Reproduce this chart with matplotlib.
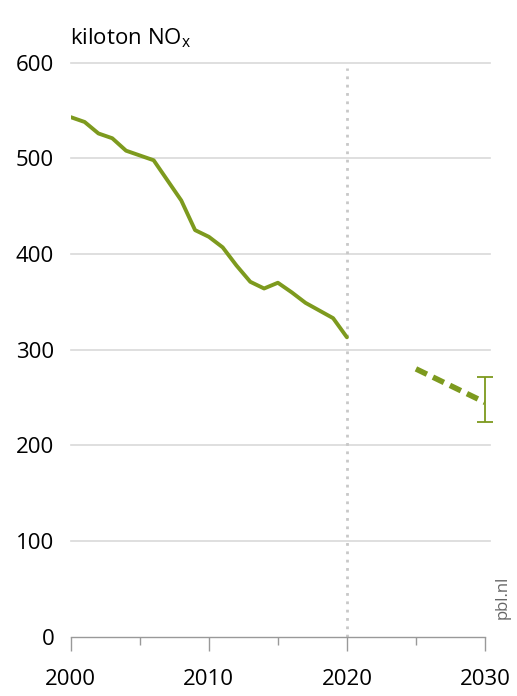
import matplotlib.pyplot as plt

years = list(range(2000, 2021))
nox = [543, 538, 526, 521, 508, 503, 498, 477, 456, 425, 418, 407, 388,
       371, 364, 370, 360, 349, 341, 333, 313]

proj_years = [2025, 2030]
proj_nox = [280, 245]
err_low, err_high = 225, 272

green = '#7d9a1e'
plt.rcParams['font.family'] = ['Open Sans', 'DejaVu Sans']

fig = plt.figure(figsize=(5.17, 6.96), dpi=100)
ax = fig.add_axes([0.137, 0.085, 0.801, 0.825])

# gridlines run a little past the last year
for y in [100, 200, 300, 400, 500, 600]:
    ax.plot([2000, 2030.4], [y, y], color='#d9d9d9', lw=1.2, zorder=0, clip_on=False)

ax.axvline(2020, color='#c8c8c8', lw=2, ls=(0, (1, 2)), ymax=0.99, zorder=1)

ax.plot(years, nox, color=green, lw=2.8, solid_capstyle='round',
        solid_joinstyle='round', zorder=3)
ax.plot(proj_years, proj_nox, color=green, lw=4, ls=(0, (2.2, 1.2)), zorder=3)
eb = ax.errorbar([2030], [proj_nox[1]],
                 yerr=[[proj_nox[1] - err_low], [err_high - proj_nox[1]]],
                 fmt='none', ecolor=green, elinewidth=1.3, capsize=6, capthick=1.3, zorder=3)
for art in eb.get_children():
    art.set_clip_on(False)

ax.set_xlim(2000, 2030)
ax.set_ylim(0, 600)
ax.set_xticks([2000, 2010, 2020, 2030])
ax.set_xticks([2005, 2015, 2025], minor=True)
ax.set_yticks([0, 100, 200, 300, 400, 500, 600])
ax.tick_params(axis='x', which='both', direction='out', length=10, width=1,
               color='#999999', labelsize=16, pad=13)
ax.tick_params(axis='x', which='minor', length=6)
ax.tick_params(axis='y', length=0, labelsize=16, pad=12)
for s in ['top', 'right', 'left']:
    ax.spines[s].set_visible(False)
ax.spines['bottom'].set_color('#999999')
ax.spines['bottom'].set_linewidth(1)
ax.patch.set_alpha(0)

fig.text(0.135, 0.945, 'kiloton NO$_\\mathregular{x}$', fontsize=16, ha='left', va='center')
fig.text(0.988, 0.11, 'pbl.nl', fontsize=12, rotation=90, color='#666666',
         ha='right', va='bottom')

fig.savefig('out.png', dpi=100)
